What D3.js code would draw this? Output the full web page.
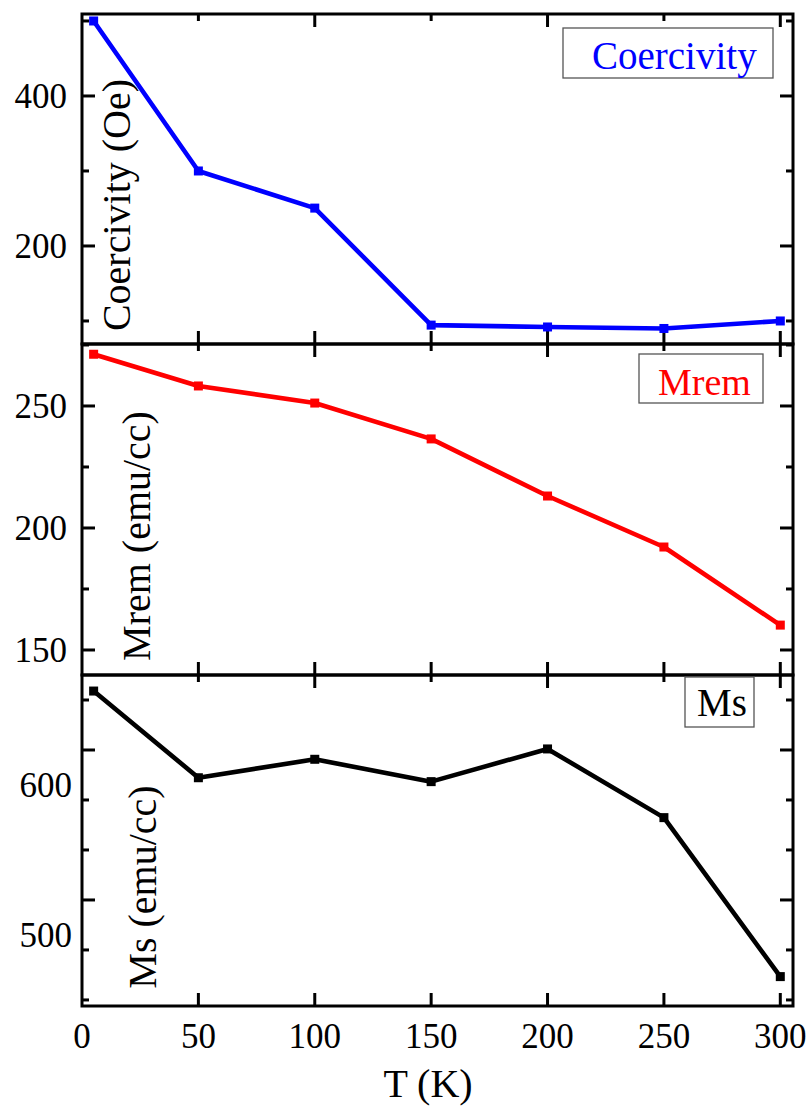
<!DOCTYPE html>
<html>
<head>
<meta charset="utf-8">
<script src="https://cdn.jsdelivr.net/npm/d3@7"></script>
<style>
  html, body { margin: 0; padding: 0; background: #fff; }
  svg { display: block; font-family: "Liberation Serif", "Times New Roman", serif; }
</style>
</head>
<body>
<svg id="chart" width="811" height="1110"></svg>
<script>
// ---- data ----
const temperatures = [5, 50, 100, 150, 200, 250, 300];
const coercivity   = [500, 300, 250.5, 94.5, 92, 90, 100];
const mrem         = [271.2, 258.2, 251.2, 236.5, 213.1, 192.2, 160.2];
const ms           = [639.3, 581.5, 593.8, 578.9, 600.7, 554.9, 448.9];

const xTickValues  = [0, 50, 100, 150, 200, 250, 300];
const coerTicks    = [200, 400];
const mremTicks    = [150, 200, 250];
const msTicks      = [500, 600];

const seriesNames  = ["Coercivity", "Mrem", "Ms"];
const yTitles      = ["Coercivity (Oe)", "Mrem (emu/cc)", "Ms (emu/cc)"];
const xTitle       = "T (K)";

// ---- layout ----
const svg = d3.select("#chart");
const left = 82, right = 793;
const x = d3.scaleLinear().domain([0, 305.5]).range([left, left + 305.5 * (698.3 / 300)]);

const panels = [
  { values: coercivity, color: "#0000ff", top: 14,  bottom: 344,  domain: [69.3, 509.3],
    major: coerTicks, minorStep: 100, labelDy: 0, labelX: 67,
    title: yTitles[0], titleX: 130, titleY: 205,
    legend: seriesNames[0], box: [563, 28, 773, 78], textX: 592, textY: 69, fs: 39 },
  { values: mrem, color: "#ff0000", top: 344, bottom: 675, domain: [139.75, 275.4],
    major: mremTicks, minorStep: 25, labelDy: 0, labelX: 67,
    title: yTitles[1], titleX: 150, titleY: 536,
    legend: seriesNames[1], box: [639, 354, 763, 403], textX: 658, textY: 395, fs: 38 },
  { values: ms, color: "#000000", top: 675, bottom: 1006, domain: [429.3, 650],
    major: msTicks, minorStep: 100 / 3, labelDy: 35, labelX: 72,
    title: yTitles[2], titleX: 156, titleY: 887,
    legend: seriesNames[2], box: [685, 677, 754, 727], textX: 697, textY: 716, fs: 39 }
];

const majorLen = 13, minorLen = 7;

panels.forEach((p, i) => {
  const y = d3.scaleLinear().domain(p.domain).range([p.bottom, p.top]);
  const g = svg.append("g");

  // y ticks (left & right, inward), built from major ticks and minor step
  const allY = [];
  const start = p.major[0];
  for (let v = start; v <= p.domain[1]; v += p.minorStep) allY.push(v);
  for (let v = start - p.minorStep; v >= p.domain[0]; v -= p.minorStep) allY.push(v);
  allY.forEach(v => {
    const isMajor = p.major.some(m => Math.abs(m - v) < 1e-6);
    const len = isMajor ? majorLen : minorLen;
    const yy = y(v);
    g.append("line").attr("x1", left).attr("x2", left + len).attr("y1", yy).attr("y2", yy)
      .attr("stroke", "#000").attr("stroke-width", 3);
    g.append("line").attr("x1", right).attr("x2", right - len).attr("y1", yy).attr("y2", yy)
      .attr("stroke", "#000").attr("stroke-width", 3);
  });

  // y tick labels
  p.major.forEach(v => {
    g.append("text").attr("x", p.labelX).attr("y", y(v) + p.labelDy)
      .attr("dy", "0.35em").attr("text-anchor", "end")
      .attr("font-size", 35).attr("fill", "#000").text(v);
  });

  // x ticks top (inward): long at 100s, short at 50s; bottom all long
  xTickValues.forEach(v => {
    if (v === 0) return;
    const len = (v % 100 === 0) ? majorLen : minorLen;
    g.append("line").attr("x1", x(v)).attr("x2", x(v)).attr("y1", p.top).attr("y2", p.top + len)
      .attr("stroke", "#000").attr("stroke-width", 3);
    g.append("line").attr("x1", x(v)).attr("x2", x(v)).attr("y1", p.bottom).attr("y2", p.bottom - majorLen)
      .attr("stroke", "#000").attr("stroke-width", 3);
  });

  // frame
  g.append("rect").attr("x", left).attr("y", p.top).attr("width", right - left).attr("height", p.bottom - p.top)
    .attr("fill", "none").attr("stroke", "#000").attr("stroke-width", 3);

  // line + markers
  const pts = temperatures.map((t, k) => [t, p.values[k]]);
  g.append("path").datum(pts)
    .attr("d", d3.line().x(d => x(d[0])).y(d => y(d[1])))
    .attr("fill", "none").attr("stroke", p.color).attr("stroke-width", 4.6).attr("stroke-linejoin", "round");
  g.selectAll(null).data(pts).enter().append("rect")
    .attr("x", d => x(d[0]) - 4.5).attr("y", d => y(d[1]) - 4.5)
    .attr("width", 9).attr("height", 9).attr("fill", p.color);

  // y title
  g.append("text").attr("transform", `translate(${p.titleX},${p.titleY}) rotate(-90)`)
    .attr("text-anchor", "middle").attr("font-size", 40).attr("fill", "#000").text(p.title);

  // legend box
  g.append("rect").attr("x", p.box[0]).attr("y", p.box[1])
    .attr("width", p.box[2] - p.box[0]).attr("height", p.box[3] - p.box[1])
    .attr("fill", "#fff").attr("stroke", "#555").attr("stroke-width", 1.3);
  g.append("text").attr("x", p.textX).attr("y", p.textY).attr("font-size", p.fs)
    .attr("fill", p.color).text(p.legend);
});

// x tick labels
svg.append("g").selectAll("text").data(xTickValues).enter().append("text")
  .attr("x", d => x(d)).attr("y", 1048).attr("text-anchor", "middle")
  .attr("font-size", 35).attr("fill", "#000").text(d => d);

// x title
svg.append("text").attr("x", 428).attr("y", 1097).attr("text-anchor", "middle")
  .attr("font-size", 40).attr("fill", "#000").text(xTitle);
</script>
</body>
</html>
